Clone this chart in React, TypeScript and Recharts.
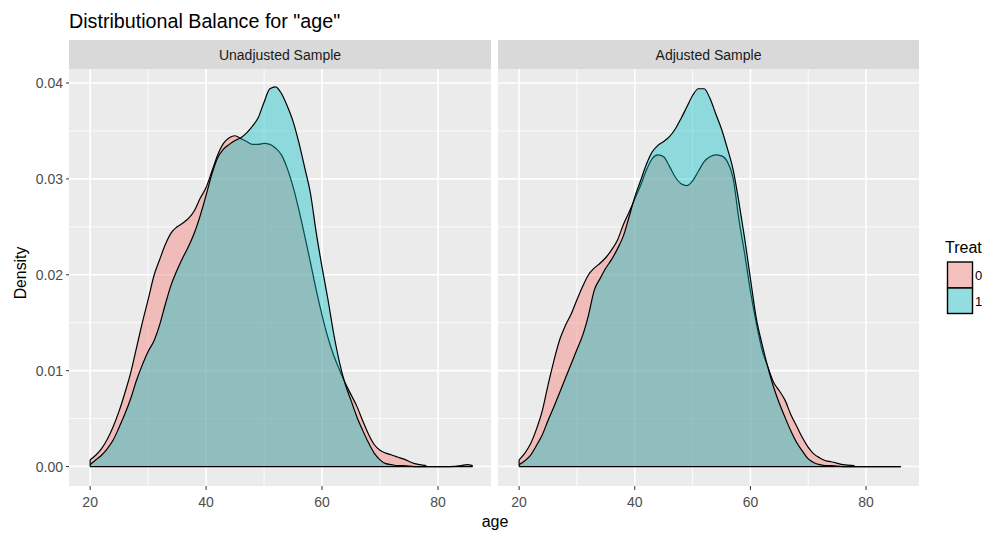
import React from "react";
import { AreaChart, Area, XAxis, YAxis, CartesianGrid, ReferenceLine } from "recharts";

// age grid (shared by both panels)
const AGES = [
  20, 21, 22, 23, 24, 25, 26, 27, 28, 29,
  30, 31, 32, 33, 34, 35, 36, 37, 38, 39,
  40, 41, 42, 43, 44, 45, 46, 47, 48, 49,
  50, 51, 52, 53, 54, 55, 56, 57, 58, 59,
  60, 61, 62, 63, 64, 65, 66, 67, 68, 69,
  70, 71, 72, 73, 74, 76, 78, 80, 82, 84, 85, 86,
];

// Unadjusted sample, treat = 0
const UNADJ_0 = [
  0.0007, 0.0012, 0.0019, 0.0029, 0.0042, 0.0058, 0.0077, 0.0098, 0.0124, 0.015,
  0.0174, 0.0199, 0.0216, 0.0232, 0.0244, 0.025, 0.0254, 0.0259, 0.0267, 0.028,
  0.0291, 0.0308, 0.0325, 0.0337, 0.0343, 0.0345, 0.0342, 0.0339, 0.0336, 0.0336,
  0.0337, 0.0336, 0.0332, 0.0325, 0.0311, 0.0292, 0.0268, 0.0241, 0.0213, 0.0184,
  0.0158, 0.0135, 0.0116, 0.0101, 0.0087, 0.0075, 0.0063, 0.0048, 0.0034, 0.0023,
  0.0017, 0.0014, 0.0012, 0.001, 0.0008, 0.0003, 0.0001, null, null, null, null, null,
];

// Unadjusted sample, treat = 1
const UNADJ_1 = [
  0.0002, 0.0007, 0.0012, 0.0019, 0.0028, 0.0041, 0.0055, 0.0071, 0.009, 0.0106,
  0.012, 0.0131, 0.0148, 0.017, 0.019, 0.0205, 0.0218, 0.023, 0.0244, 0.0262,
  0.0283, 0.0305, 0.0322, 0.0331, 0.0336, 0.034, 0.0343, 0.0348, 0.0355, 0.0364,
  0.038, 0.0394, 0.0396, 0.0389, 0.0376, 0.036, 0.0338, 0.0312, 0.0285, 0.0244,
  0.0208, 0.0175, 0.0139, 0.0109, 0.0086, 0.0069, 0.0052, 0.0038, 0.0025, 0.0014,
  0.0007, 0.0003, 0.0002, 0.0001, 0.0001, 0, 0, 0, 0, 0.0001, 0.0002, 0.0001,
];

// Adjusted sample, treat = 0
const ADJ_0 = [
  0.0007, 0.0014, 0.0024, 0.0039, 0.0058, 0.0085, 0.011, 0.0132, 0.0147, 0.0159,
  0.0174, 0.0188, 0.02, 0.0207, 0.0212, 0.0218, 0.0226, 0.0236, 0.0252, 0.0265,
  0.0279, 0.0293, 0.0309, 0.0321, 0.0325, 0.0323, 0.0313, 0.0302, 0.0295, 0.0293,
  0.0298, 0.0308, 0.0318, 0.0323, 0.0325, 0.0324, 0.0318, 0.0301, 0.0258, 0.0222,
  0.0183, 0.015, 0.0122, 0.0104, 0.0088, 0.0079, 0.0069, 0.0054, 0.0042, 0.003,
  0.002, 0.0013, 0.0009, 0.0006, 0.0005, 0.0002, 0.0001, null, null, null, null, null,
];

// Adjusted sample, treat = 1
const ADJ_1 = [
  0.0002, 0.0006, 0.0012, 0.0022, 0.0033, 0.0048, 0.0062, 0.0077, 0.0092, 0.0107,
  0.0122, 0.0137, 0.0158, 0.0184, 0.0196, 0.0207, 0.0216, 0.0227, 0.024, 0.026,
  0.0281, 0.0298, 0.0315, 0.0328, 0.0335, 0.0339, 0.0344, 0.0352, 0.0363, 0.0375,
  0.0387, 0.0394, 0.0394, 0.0384, 0.0368, 0.0352, 0.0332, 0.031, 0.0276, 0.0238,
  0.0196, 0.0155, 0.0128, 0.0104, 0.0083, 0.0066, 0.0051, 0.0037, 0.0025, 0.0016,
  0.0008, 0.0004, 0.0002, 0.0001, 0.0001, 0, 0, 0, 0, 0, 0, 0,
];

const AGE_TICKS = [20, 40, 60, 80];
const AGE_MINOR = [30, 50, 70];
const DENSITY_TICKS = [0, 0.01, 0.02, 0.03, 0.04];
const DENSITY_MINOR = [0.005, 0.015, 0.025, 0.035];
const AGE_DOMAIN = [16.35, 89.15];
const DENSITY_DOMAIN = [-0.00203, 0.04146];

const FONT = '"Liberation Sans", Arial, sans-serif';
const PINK = "#F8766D";
const TEAL = "#00BFC4";

const unadjusted = AGES.map((age, i) => ({ age, t0: UNADJ_0[i], t1: UNADJ_1[i] }));
const adjusted = AGES.map((age, i) => ({ age, t0: ADJ_0[i], t1: ADJ_1[i] }));

function Panel({ data, left, width, withY }: any) {
  const first = AGES[0];
  const last = AGES[AGES.length - 1];
  const edge = Math.max(data[0].t0 ?? 0, data[0].t1 ?? 0);
  return (
    <div style={{ position: "absolute", left, top: 0 }}>
      <AreaChart
        width={width}
        height={535}
        data={data}
        margin={{ top: 69, right: 0, bottom: 19, left: 0 }}
      >
        <CartesianGrid
          fill="#EBEBEB"
          stroke="#FFFFFF"
          strokeWidth={0.8}
          verticalValues={AGE_MINOR}
          horizontalValues={DENSITY_MINOR}
        />
        <CartesianGrid
          fill="none"
          stroke="#FFFFFF"
          strokeWidth={1.6}
          verticalValues={AGE_TICKS}
          horizontalValues={DENSITY_TICKS}
        />
        <XAxis
          dataKey="age"
          type="number"
          domain={AGE_DOMAIN}
          ticks={AGE_TICKS}
          allowDataOverflow
          axisLine={false}
          tickSize={4}
          tickMargin={7}
          height={30}
          tickLine={{ stroke: "#333333" }}
          tick={{ fill: "#4D4D4D", fontSize: 14, fontFamily: FONT }}
        />
        <YAxis
          type="number"
          domain={DENSITY_DOMAIN}
          ticks={DENSITY_TICKS}
          allowDataOverflow
          hide={!withY}
          width={69}
          axisLine={false}
          tickSize={3}
          tickMargin={3}
          tickLine={{ stroke: "#333333" }}
          tickFormatter={(v: number) => v.toFixed(2)}
          tick={{ fill: "#4D4D4D", fontSize: 14, fontFamily: FONT }}
        />
        <Area
          type="monotone"
          dataKey="t0"
          baseValue={0}
          fill={PINK}
          fillOpacity={0.4}
          stroke="#000000"
          strokeWidth={1.2}
          dot={false}
          activeDot={false}
          isAnimationActive={false}
        />
        <Area
          type="monotone"
          dataKey="t1"
          baseValue={0}
          fill={TEAL}
          fillOpacity={0.4}
          stroke="#000000"
          strokeWidth={1.2}
          dot={false}
          activeDot={false}
          isAnimationActive={false}
        />
        <ReferenceLine
          segment={[{ x: first, y: 0 }, { x: last, y: 0 }]}
          stroke="#000000"
          strokeWidth={1.2}
        />
        <ReferenceLine
          segment={[{ x: first, y: 0 }, { x: first, y: edge }]}
          stroke="#000000"
          strokeWidth={1.2}
        />
      </AreaChart>
    </div>
  );
}

function Strip({ left, width, label }: any) {
  return (
    <div
      style={{
        position: "absolute",
        left,
        top: 39.5,
        width,
        height: 29.5,
        background: "#D9D9D9",
        display: "flex",
        alignItems: "center",
        justifyContent: "center",
        fontSize: 14,
        color: "#1A1A1A",
        fontFamily: FONT,
        paddingTop: 1,
        boxSizing: "border-box",
      }}
    >
      {label}
    </div>
  );
}

export default function App() {
  return (
    <div
      style={{
        position: "absolute",
        left: 0,
        top: 0,
        width: 987,
        height: 535,
        background: "#FFFFFF",
        fontFamily: FONT,
        overflow: "hidden",
      }}
    >
      <div
        style={{
          position: "absolute",
          left: 69,
          top: 9.8,
          fontSize: 19.7,
          lineHeight: "22px",
          color: "#000000",
          whiteSpace: "nowrap",
        }}
      >
        Distributional Balance for "age"
      </div>

      <Strip left={69} width={422} label="Unadjusted Sample" />
      <Strip left={498} width={421} label="Adjusted Sample" />

      <Panel data={unadjusted} left={0} width={491} withY />
      <Panel data={adjusted} left={498} width={421} withY={false} />

      <div
        style={{
          position: "absolute",
          left: 395,
          width: 200,
          top: 514,
          textAlign: "center",
          fontSize: 16,
          lineHeight: "16px",
        }}
      >
        age
      </div>
      <div
        style={{
          position: "absolute",
          left: 21 - 50,
          top: 272.5 - 8,
          width: 100,
          textAlign: "center",
          fontSize: 15.8,
          lineHeight: "16px",
          transform: "rotate(-90deg)",
        }}
      >
        Density
      </div>

      <div
        style={{
          position: "absolute",
          left: 945,
          top: 240,
          fontSize: 16,
          lineHeight: "16px",
        }}
      >
        Treat
      </div>
      <svg style={{ position: "absolute", left: 940, top: 255 }} width={47} height={65}>
        <rect x={7.5} y={7} width={25} height={26} fill="#F2F2F2" />
        <rect x={7.5} y={7} width={25} height={26} fill={PINK} fillOpacity={0.4} stroke="#000" strokeWidth={1.4} />
        <rect x={7.5} y={33} width={25} height={25.5} fill="#F2F2F2" />
        <rect x={7.5} y={33} width={25} height={25.5} fill={TEAL} fillOpacity={0.4} stroke="#000" strokeWidth={1.4} />
        <text x={35} y={25} fontSize={13} fontFamily={FONT} fill="#000">0</text>
        <text x={35} y={51} fontSize={13} fontFamily={FONT} fill="#000">1</text>
      </svg>
    </div>
  );
}
